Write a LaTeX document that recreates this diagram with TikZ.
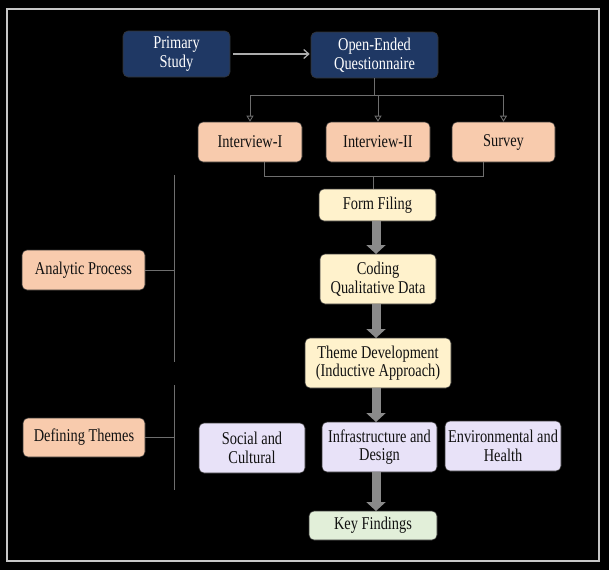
\documentclass[tikz,border=0pt]{standalone}
\usepackage{fontspec}
\setmainfont[FakeStretch=0.8]{Liberation Serif}
\usetikzlibrary{arrows.meta,calc}
\definecolor{navy}{HTML}{1F3864}
\definecolor{peach}{HTML}{F8CBAD}
\definecolor{cream}{HTML}{FFF2CC}
\definecolor{lav}{HTML}{E8E2F8}
\definecolor{mint}{HTML}{E2EFD9}
\definecolor{txt}{HTML}{111111}
\definecolor{conn}{HTML}{6E6E6E}
\definecolor{fat}{HTML}{8A8A8A}
\tikzset{
  boxbase/.style={draw=black!80, line width=0.6pt, rounded corners=5pt, align=center, inner sep=0pt, font=\fontsize{18}{18.5}\selectfont, text=txt},
  bluebox/.style={boxbase, fill=navy, text=white},
  peachbox/.style={boxbase, fill=peach},
  creambox/.style={boxbase, fill=cream},
  lavbox/.style={boxbase, fill=lav},
  mintbox/.style={boxbase, fill=mint},
  thin conn/.style={draw=conn, line width=0.8pt},
  small tip/.style={thin conn, -{Triangle[open, length=6pt, width=7pt]}},
  fat arrow/.style={draw=fat, line width=9pt, -{Triangle[length=9pt, width=19pt]}, shorten >=0pt},
  bracket/.style={draw=conn, line width=0.8pt},
}
\begin{document}
\begin{tikzpicture}[x=1pt, y=-1pt]
\useasboundingbox (0,0) rectangle (609,570);
\fill[black] (0,0) rectangle (609,570);
\draw[gray!45, line width=1.6pt] (7,9) rectangle (599,561);

\node[bluebox, minimum width=107pt, minimum height=46pt] (ps) at (176.5,54) {Primary\\Study};
\node[bluebox, minimum width=127pt, minimum height=46pt] (oq) at (374.5,55) {Open-Ended\\Questionnaire};

\node[peachbox, minimum width=104pt, minimum height=40pt] (i1) at (250,142) {Interview-I};
\node[peachbox, minimum width=104pt, minimum height=40pt] (i2) at (378,142) {Interview-II};
\node[peachbox, minimum width=103pt, minimum height=40pt] (sv) at (503.5,142) {Survey};

\node[creambox, minimum width=117pt, minimum height=32pt] (ff) at (377.5,205) {Form Filing};
\node[creambox, minimum width=116pt, minimum height=50pt] (cq) at (378,279) {Coding\\Qualitative Data};
\node[creambox, minimum width=146pt, minimum height=50pt] (td) at (378,363) {Theme Development\\(Inductive Approach)};

\node[lavbox, minimum width=106pt, minimum height=50pt] (sc) at (252,448) {Social and\\Cultural};
\node[lavbox, minimum width=115pt, minimum height=50pt] (id) at (379.5,447) {Infrastructure and\\Design};
\node[lavbox, minimum width=116pt, minimum height=50pt] (eh) at (503,446) {Environmental and\\Health};

\node[mintbox, minimum width=128pt, minimum height=29pt] (kf) at (373,525.5) {Key Findings};

\node[peachbox, minimum width=123pt, minimum height=40pt] (ap) at (83.5,270) {Analytic Process};
\node[peachbox, minimum width=122pt, minimum height=39pt] (dt) at (84,437.5) {Defining Themes};

% Primary -> Questionnaire
\draw[draw=gray!65, line width=1.3pt, -{Straight Barb[length=5pt, width=9pt]}] ([xshift=3pt]ps.east) -- ([xshift=-1pt]ps.east -| oq.west);

% Questionnaire -> interviews
\coordinate (split) at ($(oq.south)+(0,17)$);
\draw[thin conn] (oq.south) -- (split);
\draw[small tip] (split) -| (i1.north);
\draw[small tip] (split) -- (split -| i2.north) -- (i2.north);
\draw[small tip] (split) -| (sv.north);

% interviews -> Form Filing
\coordinate (join) at ($(ff.north)+(-4.5,-12)$);
\draw[thin conn] ([xshift=14pt]i1.south) |- (join);
\draw[thin conn] ([xshift=-20.5pt]sv.south) |- (join);
\draw[thin conn] (join) -- (join |- ff.north);

% thick flow arrows
\draw[fat arrow] (ff.south -| 376,0) -- (376,254);
\draw[fat arrow] (cq.south -| 376,0) -- (376,338);
\draw[fat arrow] (td.south -| 376,0) -- (376,422);
\draw[fat arrow] (id.south -| 376,0) -- (376,511);

% side brackets
\coordinate (apt) at (174,175);
\coordinate (apb) at (174,362);
\draw[bracket] (apt) -- (apb);
\draw[bracket] (ap.east) -- (ap.east -| apt);
\coordinate (dtt) at (174,385);
\coordinate (dtb) at (174,490);
\draw[bracket] (dtt) -- (dtb);
\draw[bracket] (dt.east) -- (dt.east -| dtt);
\end{tikzpicture}
\end{document}
